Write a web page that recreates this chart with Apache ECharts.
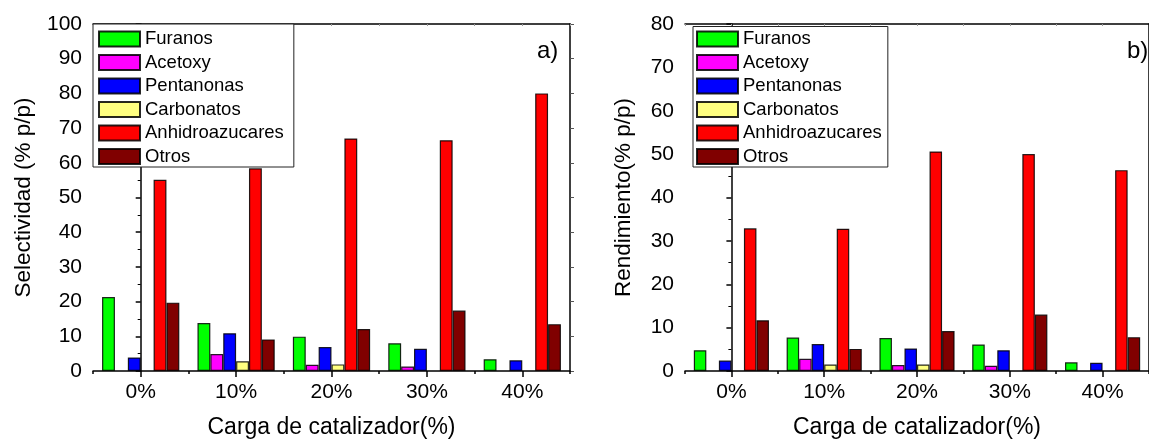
<!DOCTYPE html>
<html>
<head>
<meta charset="utf-8">
<script src="https://cdn.jsdelivr.net/npm/echarts/dist/echarts.min.js"></script>
<style>
html,body{margin:0;padding:0;background:#fff;}
#c{width:1149px;height:444px;}
</style>
</head>
<body>
<div id="c"></div>
<script>
var categories = ['0%', '10%', '20%', '30%', '40%'];
var seriesNames = ['Furanos', 'Acetoxy', 'Pentanonas', 'Carbonatos', 'Anhidroazucares', 'Otros'];
var seriesColors = ['#00ff00', '#ff00ff', '#0000ff', '#ffff80', '#ff0000', '#800000'];

// a) Selectividad (% p/p)
var selFuranos = [21.3, 13.8, 9.9, 8.0, 3.4];
var selAcetoxy = [null, 4.9, 1.8, 1.3, null];
var selPentanonas = [3.9, 10.9, 6.9, 6.4, 3.1];
var selCarbonatos = [null, 2.8, 1.9, null, null];
var selAnhidro = [55.1, 58.4, 67.0, 66.5, 80.0];
var selOtros = [19.7, 9.1, 12.1, 17.4, 13.5];

// b) Rendimiento (% p/p)
var rendFuranos = [4.8, 7.7, 7.6, 6.1, 2.0];
var rendAcetoxy = [null, 2.8, 1.4, 1.2, null];
var rendPentanonas = [2.4, 6.2, 5.2, 4.8, 1.9];
var rendCarbonatos = [null, 1.5, 1.5, null, null];
var rendAnhidro = [32.9, 32.8, 50.6, 50.0, 46.3];
var rendOtros = [11.7, 5.1, 9.2, 13.0, 7.8];

var selData = [selFuranos, selAcetoxy, selPentanonas, selCarbonatos, selAnhidro, selOtros];
var rendData = [rendFuranos, rendAcetoxy, rendPentanonas, rendCarbonatos, rendAnhidro, rendOtros];

var FONT = "'Liberation Sans', Arial, sans-serif";
var chart = echarts.init(document.getElementById('c'), null, {renderer: 'canvas'});

var grids = [
  {left: 93, top: 24, width: 477, height: 349.5},
  {left: 685, top: 24, width: 476, height: 350.5}
];
var yMax = [100, 80];
var yTitles = ['Selectividad (% p/p)', 'Rendimiento(% p/p)'];
var yNameGaps = [58, 50];
var lineStyle = {color: '#000', width: 1.5};

var xAxes = [], yAxes = [], series = [], legends = [];
for (var g = 0; g < 2; g++) {
  xAxes.push({
    type: 'category', gridIndex: g, data: categories, position: 'bottom',
    name: 'Carga de catalizador(%)', nameLocation: 'middle', nameGap: 45,
    nameTextStyle: {fontFamily: FONT, fontSize: 23, color: '#000'},
    axisLine: {show: true, lineStyle: lineStyle},
    axisTick: {show: true, alignWithLabel: true, length: 6, lineStyle: lineStyle},
    axisLabel: {fontFamily: FONT, fontSize: 21, color: '#000', margin: 11},
    splitLine: {show: false}
  });
  xAxes.push({
    type: 'category', gridIndex: g, data: categories, position: 'bottom',
    axisLine: {show: false},
    axisTick: {show: true, alignWithLabel: false, length: 3, lineStyle: lineStyle},
    axisLabel: {show: false}, splitLine: {show: false}
  });
  xAxes.push({
    type: 'value', gridIndex: g, position: 'top', min: -0.5, max: 4.5, interval: 0.5,
    axisLine: {show: true, lineStyle: lineStyle},
    axisTick: {show: true, inside: true, length: 2, lineStyle: {color: '#999', width: 1}},
    axisLabel: {show: false}, splitLine: {show: false}
  });
  yAxes.push({
    type: 'value', gridIndex: g, min: 0, max: yMax[g], interval: 10, position: 'left',
    name: yTitles[g], nameLocation: 'middle', nameGap: yNameGaps[g],
    nameTextStyle: {fontFamily: FONT, fontSize: 22.5, color: '#000'},
    axisLine: {show: true, lineStyle: lineStyle},
    axisTick: {show: true, length: 5, lineStyle: lineStyle},
    minorTick: {show: true, splitNumber: 2, length: 3, lineStyle: {color: '#000', width: 1}},
    axisLabel: {fontFamily: FONT, fontSize: 21, color: '#000', margin: 11},
    splitLine: {show: false}, minorSplitLine: {show: false}
  });
  yAxes.push({
    type: 'value', gridIndex: g, min: 0, max: yMax[g], interval: 10, position: 'right',
    axisLine: {show: true, lineStyle: lineStyle},
    axisTick: {show: true, length: 4, lineStyle: {color: '#555', width: 1}},
    axisLabel: {show: false}, splitLine: {show: false}
  });
  var dataSet = g === 0 ? selData : rendData;
  for (var s = 0; s < 6; s++) {
    series.push({
      type: 'bar', name: seriesNames[s],
      xAxisIndex: g * 3, yAxisIndex: g * 2,
      data: dataSet[s],
      barGap: '0%', barCategoryGap: '19%',
      itemStyle: {color: seriesColors[s], borderColor: 'rgba(0,0,0,0.85)', borderWidth: 1.2},
      emphasis: {disabled: true},
      animation: false
    });
  }
}

legends.push({
  data: seriesNames, orient: 'vertical', left: 93, top: 24, icon: 'rect',
  itemWidth: 41, itemHeight: 15, itemGap: 4.5,
  padding: [5.5, 10, 1, 5],
  borderColor: '#222', borderWidth: 1, backgroundColor: '#fff',
  textStyle: {fontFamily: FONT, fontSize: 18.5, color: '#000'},
  selectedMode: false
});
legends.push({
  data: seriesNames, orient: 'vertical', left: 693, top: 26.5, icon: 'rect',
  itemWidth: 41, itemHeight: 15, itemGap: 4.5,
  padding: [3, 6, 1, 3],
  borderColor: '#222', borderWidth: 1, backgroundColor: '#fff',
  textStyle: {fontFamily: FONT, fontSize: 18.5, color: '#000'},
  selectedMode: false
});

chart.setOption({
  animation: false,
  backgroundColor: '#fff',
  grid: grids,
  xAxis: xAxes,
  yAxis: yAxes,
  legend: legends,
  series: series,
  graphic: [
    {type: 'text', left: 537, top: 39, style: {text: 'a)', font: '24px ' + FONT, fill: '#000'}},
    {type: 'text', left: 1127, top: 39, style: {text: 'b)', font: '24px ' + FONT, fill: '#000'}}
  ]
});
</script>
</body>
</html>
